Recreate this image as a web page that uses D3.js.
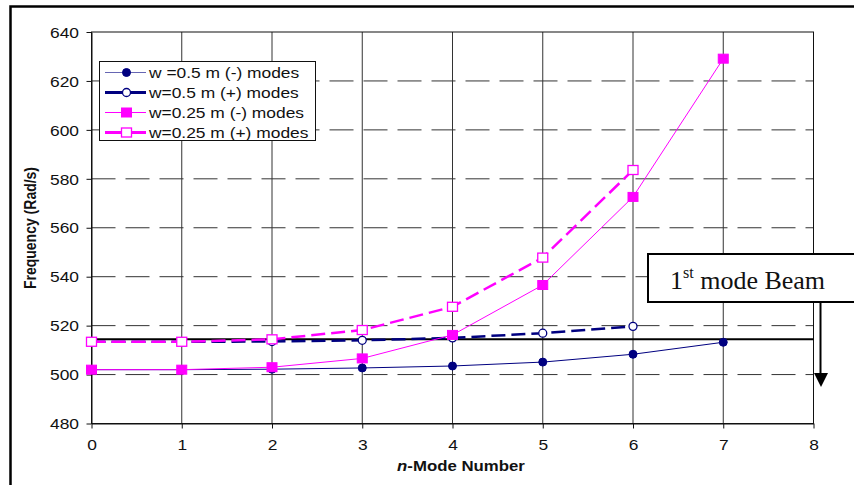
<!DOCTYPE html>
<html>
<head>
<meta charset="utf-8">
<script src="https://cdn.jsdelivr.net/npm/d3@7/dist/d3.min.js"></script>
<style>
  html, body { margin: 0; padding: 0; background: #fff; }
  svg { display: block; }
</style>
</head>
<body>
<svg id="chart" width="854" height="485"></svg>
<script>
// Mode numbers and natural frequencies (rad/s) for two beam widths
const modeNumbers = [0, 1, 2, 3, 4, 5, 6, 7];
const w050Minus = [502.0, 502.0, 502.2, 502.7, 503.5, 505.1, 508.3, 513.2];
const w050Plus  = [513.4, 513.4, 513.5, 514.0, 515.0, 516.9, 519.7];
const w025Minus = [502.0, 502.0, 503.0, 506.6, 516.2, 536.6, 572.6, 629.1];
const w025Plus  = [513.4, 513.4, 514.4, 518.2, 527.7, 547.8, 583.6];
const beamFirstMode = 514.4;

const xTicks = [0, 1, 2, 3, 4, 5, 6, 7, 8];
const yTicks = [480, 500, 520, 540, 560, 580, 600, 620, 640];

const seriesNames = [
  "w =0.5 m (-) modes",
  "w=0.5 m (+) modes",
  "w=0.25 m (-) modes",
  "w=0.25 m (+) modes"
];

const NAVY = "#000080", MAGENTA = "#ff00ff";
const SANS = "'Liberation Sans', Arial, sans-serif";
const SERIF = "'Liberation Serif', 'Times New Roman', serif";
const STRETCH = 1.2;

const series = [
  { name: seriesNames[0], values: w050Minus, color: NAVY, width: 1, dash: null, legendWidth: 1, marker: "circle", filled: true },
  { name: seriesNames[1], values: w050Plus, color: NAVY, width: 2.5, dash: "14,6", legendWidth: 3, marker: "circle", filled: false },
  { name: seriesNames[2], values: w025Minus, color: MAGENTA, width: 1, dash: null, legendWidth: 1, marker: "square", filled: true },
  { name: seriesNames[3], values: w025Plus, color: MAGENTA, width: 2.5, dash: "14,6", legendWidth: 3, marker: "square", filled: false }
];

const svg = d3.select("#chart");

// Outer frame
svg.append("rect")
  .attr("x", 10.5).attr("y", 6.5).attr("width", 900).attr("height", 600)
  .attr("fill", "none").attr("stroke", "#000").attr("stroke-width", 2.5);

const plot = { left: 91.5, right: 813.5, top: 32, bottom: 423.5 };

const x = d3.scaleLinear().domain([0, 8]).range([plot.left, plot.right]);
const y = d3.scaleLinear().domain([480, 640]).range([plot.bottom, plot.top]);

// Grid: solid verticals, dashed horizontals
svg.append("g").selectAll("line")
  .data(xTicks.slice(1, -1)).join("line")
  .attr("x1", d => x(d)).attr("x2", d => x(d))
  .attr("y1", plot.top).attr("y2", plot.bottom)
  .attr("stroke", "#333").attr("stroke-width", 1);

svg.append("g").selectAll("line")
  .data(yTicks.slice(1, -1)).join("line")
  .attr("x1", plot.left).attr("x2", plot.right)
  .attr("y1", d => y(d)).attr("y2", d => y(d))
  .attr("stroke", "#333").attr("stroke-width", 1)
  .attr("stroke-dasharray", "24,10");

// Plot border
svg.append("rect")
  .attr("x", plot.left).attr("y", plot.top)
  .attr("width", plot.right - plot.left).attr("height", plot.bottom - plot.top)
  .attr("fill", "none").attr("stroke", "#111").attr("stroke-width", 1);

// Axes
const yAxis = svg.append("g")
  .attr("transform", `translate(${plot.left},0)`)
  .call(d3.axisLeft(y).tickValues(yTicks).tickSizeInner(5).tickSizeOuter(0).tickFormat(d3.format("d")));
const xAxis = svg.append("g")
  .attr("transform", `translate(0,${plot.bottom})`)
  .call(d3.axisBottom(x).tickValues(xTicks).tickSizeInner(5).tickSizeOuter(0).tickFormat(d3.format("d")));

[yAxis, xAxis].forEach(g => {
  g.select(".domain").attr("stroke", "#111");
  g.selectAll(".tick line").attr("stroke", "#111");
  g.selectAll(".tick text")
    .attr("font-family", SANS).attr("font-size", 14.5).attr("fill", "#111");
});
yAxis.selectAll(".tick text")
  .attr("x", -12.5 / STRETCH).attr("dy", "0.36em")
  .attr("transform", `scale(${STRETCH},1)`);
xAxis.selectAll(".tick text")
  .attr("y", 26.5).attr("dy", 0)
  .attr("transform", `scale(${STRETCH},1)`);

// Axis titles
svg.append("text")
  .attr("transform", `translate(36,228) rotate(-90) scale(1,${STRETCH})`)
  .attr("text-anchor", "middle")
  .attr("font-family", SANS).attr("font-weight", "bold").attr("font-size", 14)
  .attr("fill", "#111")
  .text("Frequency (Rad/s)");

const xTitle = svg.append("text")
  .attr("transform", `translate(461,471) scale(${STRETCH},1)`)
  .attr("text-anchor", "middle")
  .attr("font-family", SANS).attr("font-weight", "bold").attr("font-size", 14)
  .attr("fill", "#111");
xTitle.append("tspan").attr("font-style", "italic").text("n");
xTitle.append("tspan").text("-Mode Number");

// First beam mode reference line
svg.append("line")
  .attr("x1", x(0)).attr("x2", x(8))
  .attr("y1", y(beamFirstMode)).attr("y2", y(beamFirstMode))
  .attr("stroke", "#000").attr("stroke-width", 2);

// Series lines and markers
const line = d3.line().x((d, i) => x(modeNumbers[i])).y(d => y(d));

function drawMarker(g, s, cx, cy) {
  if (s.marker === "circle") {
    g.append("circle")
      .attr("cx", cx).attr("cy", cy).attr("r", 4)
      .attr("fill", s.filled ? s.color : "#fff")
      .attr("stroke", s.color).attr("stroke-width", s.filled ? 1 : 1.3);
  } else {
    const w = 10, h = 9;
    g.append("rect")
      .attr("x", cx - w / 2).attr("y", cy - h / 2).attr("width", w).attr("height", h)
      .attr("fill", s.filled ? s.color : "#fff")
      .attr("stroke", s.color).attr("stroke-width", s.filled ? 1 : 1.3);
  }
}

series.forEach(s => {
  const g = svg.append("g");
  g.append("path")
    .datum(s.values)
    .attr("d", line)
    .attr("fill", "none")
    .attr("stroke", s.color)
    .attr("stroke-width", s.width)
    .attr("stroke-dasharray", s.dash);
  s.values.forEach((v, i) => drawMarker(g, s, x(modeNumbers[i]), y(v)));
});

// Legend
const legend = svg.append("g");
legend.append("rect")
  .attr("x", 99.5).attr("y", 61.5).attr("width", 216).attr("height", 79)
  .attr("fill", "#fff").attr("stroke", "#111").attr("stroke-width", 1);
series.forEach((s, i) => {
  const ry = 72.5 + i * 20;
  legend.append("line")
    .attr("x1", 105).attr("x2", 146).attr("y1", ry).attr("y2", ry)
    .attr("stroke", s.color).attr("stroke-width", s.legendWidth)
    .attr("stroke-opacity", i === 0 ? 0.6 : 1);
  drawMarker(legend, s, 126.5, ry);
  legend.append("text")
    .attr("transform", `translate(149,${ry + 5}) scale(${STRETCH},1)`)
    .attr("font-family", SANS).attr("font-size", 14.5).attr("fill", "#111")
    .text(s.name);
});

// Beam annotation box with arrow
const note = svg.append("g");
note.append("rect")
  .attr("x", 648).attr("y", 254).attr("width", 230).attr("height", 48)
  .attr("fill", "#fff").attr("stroke", "#000").attr("stroke-width", 2);
const noteText = note.append("text")
  .attr("x", 670).attr("y", 289)
  .attr("font-family", SERIF).attr("font-size", 26).attr("fill", "#111");
noteText.append("tspan").text("1");
noteText.append("tspan").attr("font-size", 16).attr("dy", -11).text("st");
noteText.append("tspan").attr("dy", 11).text(" mode Beam");

note.append("line")
  .attr("x1", 820.5).attr("x2", 820.5).attr("y1", 302).attr("y2", 374)
  .attr("stroke", "#000").attr("stroke-width", 2);
note.append("path")
  .attr("d", "M814,373 L828,373 L821,387 Z")
  .attr("fill", "#000");
</script>
</body>
</html>
